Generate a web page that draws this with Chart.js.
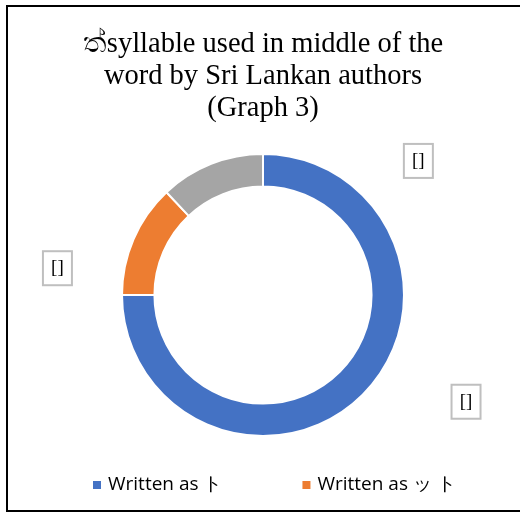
<!DOCTYPE html>
<html>
<head>
<meta charset="utf-8">
<script src="https://cdn.jsdelivr.net/npm/chart.js"></script>
<style>
  html, body { margin: 0; padding: 0; background: #fff; overflow: hidden; }
  #wrap { position: relative; width: 520px; height: 512px; }
  #frame { position: absolute; left: 6px; top: 5px; width: 600px; height: 507px;
           box-sizing: border-box; border: 2px solid #000; pointer-events: none; }
  canvas { position: absolute; left: 0; top: 0; }
</style>
</head>
<body>
<div id="wrap">
  <canvas id="chart" width="520" height="512"></canvas>
  <div id="frame"></div>
</div>
<script>
// chart values
const titleLines = ['ත්syllable used in middle of the', 'word by Sri Lankan authors', '(Graph 3)'];
const sliceLabels = ['Written as ト', 'Written as ッ ト', 'Other'];
const sliceValues = [75, 13, 12];
const sliceColors = ['#4472C4', '#ED7D31', '#A5A5A5'];
const dataLabelTexts = ['[]', '[]', '[]'];
const legendShown = 2; // only the first two entries fit in the legend

// where each data label box sits, relative to the ring centre, in outer radii
const labelOffsets = [[1.44, 0.757], [-1.458, -0.19], [1.102, -0.951]];

// draws the boxed data labels next to the ring
const boxLabels = {
  id: 'boxLabels',
  afterDatasetsDraw(chart) {
    const ctx = chart.ctx;
    const meta = chart.getDatasetMeta(0);
    meta.data.forEach((arc, i) => {
      const cx = arc.x + labelOffsets[i][0] * arc.outerRadius;
      const cy = arc.y + labelOffsets[i][1] * arc.outerRadius;
      const w = 29, h = 34;
      ctx.save();
      ctx.fillStyle = '#fff';
      ctx.fillRect(cx - w / 2, cy - h / 2, w, h);
      ctx.strokeStyle = '#BFBFBF';
      ctx.lineWidth = 2;
      ctx.strokeRect(cx - w / 2, cy - h / 2, w, h);
      ctx.fillStyle = '#000';
      ctx.font = '19px "Liberation Serif"';
      ctx.textAlign = 'center';
      ctx.textBaseline = 'middle';
      ctx.fillText(dataLabelTexts[i], cx, cy);
      ctx.restore();
    });
  }
};

// legend drawn by hand so the wide gap between the entries matches
const wideLegend = {
  id: 'wideLegend',
  afterDraw(chart) {
    const ctx = chart.ctx;
    ctx.save();
    ctx.font = '19px "Open Sans"';
    ctx.textBaseline = 'middle';
    let x = 93;
    const y = 485;
    for (let i = 0; i < legendShown; i++) {
      ctx.fillStyle = sliceColors[i];
      ctx.fillRect(x, y - 4, 8, 8);
      ctx.fillStyle = '#000';
      ctx.fillText(sliceLabels[i], x + 15, y);
      x += 15 + ctx.measureText(sliceLabels[i]).width + 80;
    }
    ctx.restore();
  }
};

const ctx = document.getElementById('chart').getContext('2d');
new Chart(ctx, {
  type: 'doughnut',
  data: {
    labels: sliceLabels,
    datasets: [{
      data: sliceValues,
      backgroundColor: sliceColors,
      borderColor: '#fff',
      borderWidth: 2,
      hoverOffset: 0
    }]
  },
  options: {
    responsive: false,
    devicePixelRatio: 1,
    animation: false,
    cutout: '77%',
    layout: { padding: { left: 6, right: 0, top: 0, bottom: 75 } },
    plugins: {
      legend: { display: false },
      tooltip: { enabled: false },
      title: {
        display: true,
        text: titleLines,
        color: '#000',
        font: { family: '"Liberation Serif"', size: 28.5, weight: 'normal', lineHeight: 1.123 },
        padding: { top: 29, bottom: 28 }
      }
    }
  },
  plugins: [boxLabels, wideLegend]
});
</script>
</body>
</html>
